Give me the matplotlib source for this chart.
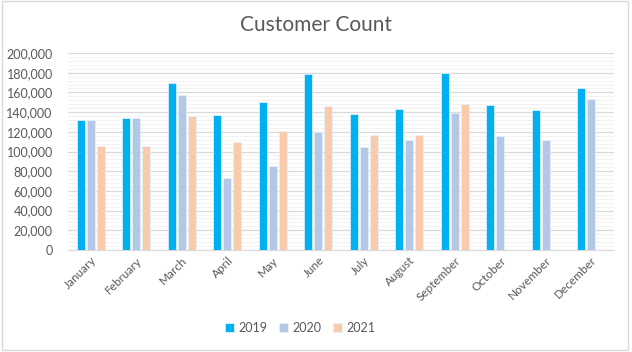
import numpy as np
import matplotlib.pyplot as plt
from matplotlib.ticker import FuncFormatter, MultipleLocator
from matplotlib.patches import Rectangle

months = ['January', 'February', 'March', 'April', 'May', 'June', 'July',
          'August', 'September', 'October', 'November', 'December']
c2019 = [132000, 134500, 169500, 137500, 150000, 178500, 138500, 143500, 179500, 147500, 142500, 164000]
c2020 = [131500, 134500, 157000, 73000, 85000, 120000, 104500, 111500, 139500, 116000, 112000, 153500]
c2021 = [105500, 105500, 136500, 110000, 121000, 146000, 117000, 116500, 148000, np.nan, np.nan, np.nan]
years = ['2019', '2020', '2021']
colors = ['#00B0F0', '#B4C7E7', '#F8CBAD']

plt.rcParams['font.family'] = ['Lato', 'DejaVu Sans']

fig = plt.figure(figsize=(6.32, 3.52), dpi=100)
fig.patches.append(Rectangle((0.003, 0.006), 0.99, 0.99, transform=fig.transFigure,
                             fill=False, edgecolor='#D9D9D9', lw=1))
ax = fig.add_axes([68 / 632, 1 - 250 / 352, 546 / 632, 197 / 352])

x = np.arange(len(months))
w = 0.18
for i, (vals, c, lab) in enumerate(zip([c2019, c2020, c2021], colors, years)):
    ax.bar(x + (i - 1) * 0.22, vals, width=w, color=c, edgecolor='#EAF3FB',
           linewidth=0.5, label=lab, zorder=3)

ax.set_xlim(-0.5, len(months) - 0.5)
ax.set_ylim(0, 200000)
ax.yaxis.set_major_locator(MultipleLocator(20000))
ax.yaxis.set_minor_locator(MultipleLocator(4000))
ax.yaxis.set_major_formatter(FuncFormatter(lambda v, p: f'{int(v):,}'))
ax.grid(axis='y', which='major', color='#D9D9D9', lw=0.9, zorder=0)
ax.grid(axis='y', which='minor', color='#F2F2F2', lw=0.8, zorder=0)
for s in ['top', 'right', 'left']:
    ax.spines[s].set_visible(False)
ax.spines['bottom'].set_color('#D9D9D9')
ax.tick_params(axis='both', which='both', length=0, colors='#595959', labelsize=9)
ax.tick_params(axis='y', pad=11)
ax.set_xticks(x)
ax.set_xticklabels(months, rotation=45, ha='right', rotation_mode='anchor', fontsize=8.5)

fig.text(0.5, 0.93, 'Customer Count', ha='center', va='center', fontsize=15, color='#595959')
fig.legend(loc='center', bbox_to_anchor=(0.475, 0.068), ncol=3, frameon=False,
           fontsize=9, handlelength=0.7, handleheight=0.7, handletextpad=0.3,
           columnspacing=1.0, labelcolor='#595959')

fig.savefig('out.png', dpi=100)
